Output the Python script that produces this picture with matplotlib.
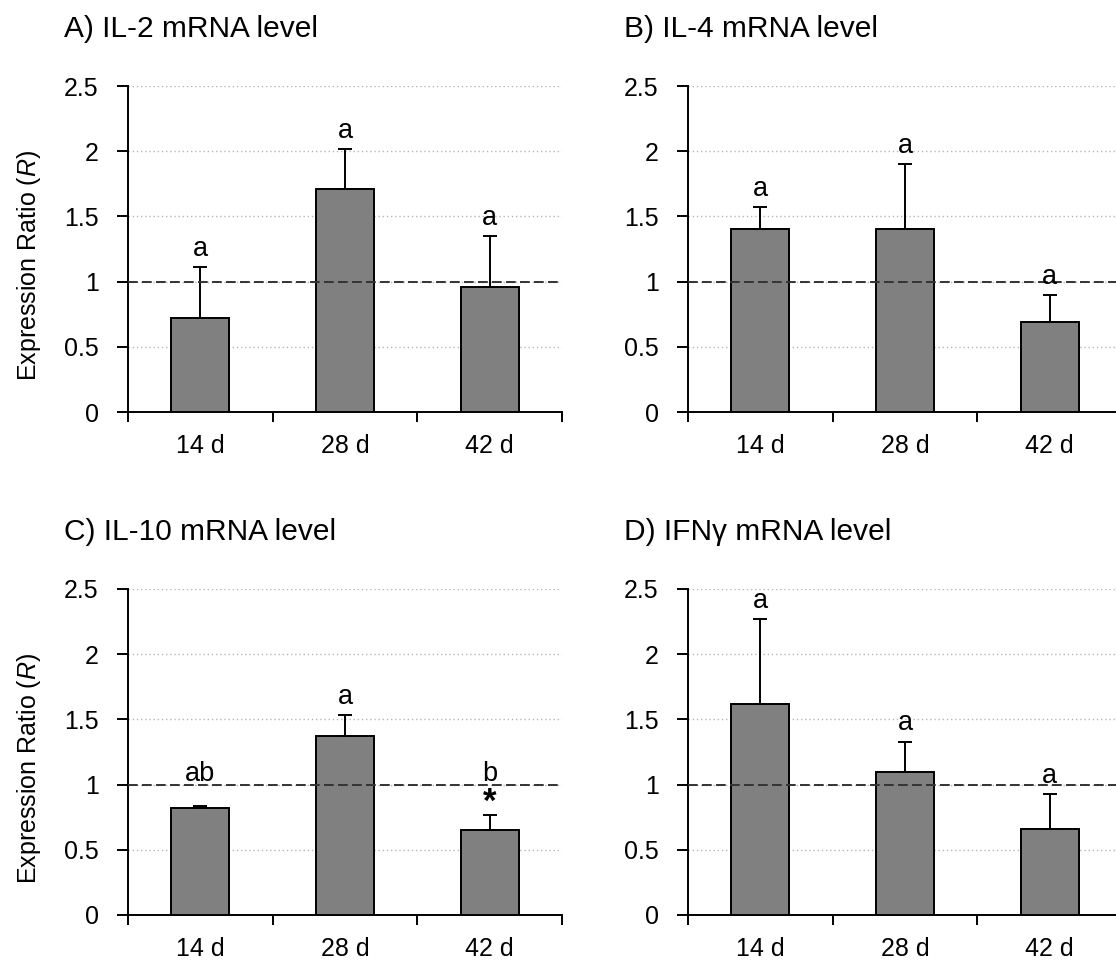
import numpy as np
import matplotlib
matplotlib.use("Agg")
import matplotlib.pyplot as plt

plt.rcParams['font.family'] = ['Liberation Sans', 'DejaVu Sans']
plt.rcParams['mathtext.fontset'] = 'custom'
plt.rcParams['mathtext.rm'] = 'Liberation Sans'
plt.rcParams['mathtext.it'] = 'Liberation Sans:italic'

# ---- data ----
days = ["14 d", "28 d", "42 d"]
y_ticks = [0, 0.5, 1, 1.5, 2, 2.5]
y_ticklabels = ["0", "0.5", "1", "1.5", "2", "2.5"]

titles = ["A) IL-2 mRNA level", "B) IL-4 mRNA level",
          "C) IL-10 mRNA level", "D) IFN\u03b3 mRNA level"]

il2_mean = [0.72, 1.71, 0.96]
il2_err = [0.39, 0.31, 0.39]
il4_mean = [1.40, 1.40, 0.69]
il4_err = [0.17, 0.50, 0.21]
il10_mean = [0.82, 1.37, 0.65]
il10_err = [0.015, 0.165, 0.12]
ifng_mean = [1.62, 1.10, 0.66]
ifng_err = [0.65, 0.23, 0.27]

il2_letters = ["a", "a", "a"]
il4_letters = ["a", "a", "a"]
il10_letters = ["ab", "a", "b"]
ifng_letters = ["a", "a", "a"]
il10_star = [False, False, True]

means = [il2_mean, il4_mean, il10_mean, ifng_mean]
errs = [il2_err, il4_err, il10_err, ifng_err]
letters = [il2_letters, il4_letters, il10_letters, ifng_letters]
stars = [None, None, il10_star, None]

W, H = 1116, 966
fig = plt.figure(figsize=(W / 100, H / 100), dpi=100)

# axes boxes in pixels: (left, top) of plot area, same size for all
ax_w, ax_h = 434, 326
origins = [(128, 86), (688, 86), (128, 589), (688, 589)]

x = np.arange(len(days))

for i, (ox, oy) in enumerate(origins):
    ax = fig.add_axes([ox / W, 1 - (oy + ax_h) / H, ax_w / W, ax_h / H])
    m = np.array(means[i])
    e = np.array(errs[i])

    ax.bar(x, m, width=0.4, color='#808080', edgecolor='black', linewidth=1.4, zorder=3)
    ax.errorbar(x, m, yerr=[np.zeros_like(e), e], fmt='none', ecolor='black',
                elinewidth=1.4, capsize=5, capthick=1.4, zorder=4)
    ax.axhline(1, color='#333333', linewidth=1.4, linestyle=(0, (5, 2.2)), zorder=5)

    ax.set_xlim(-0.5, 2.5)
    ax.set_ylim(0, 2.5)
    ax.set_yticks(y_ticks)
    ax.set_yticklabels(y_ticklabels)
    ax.set_xticks([-0.5, 0.5, 1.5, 2.5])
    ax.set_xticklabels([])
    ax.set_xticks(x, minor=True)
    ax.set_xticklabels(days, minor=True)
    ax.tick_params(axis='x', which='major', direction='out', length=7.5, width=1.4)
    ax.tick_params(axis='x', which='minor', length=0, pad=16, labelsize=18)
    ax.tick_params(axis='y', direction='out', length=8, width=1.4, pad=13, labelsize=18)

    ax.yaxis.grid(True, linestyle=(0, (1, 2)), color='#b5b5b5', linewidth=1)
    ax.set_axisbelow(True)
    for s in ['top', 'right']:
        ax.spines[s].set_visible(False)
    for s in ['left', 'bottom']:
        ax.spines[s].set_linewidth(1.4)

    # significance letters above the error bars
    tops = m + e
    base = tops + 0.085
    if stars[i] is not None:
        for j, flag in enumerate(stars[i]):
            if flag:
                ax.text(x[j], tops[j] + 0.09, "*", ha='center', va='center',
                        fontsize=25, fontweight='bold', zorder=6)
                base[j] = tops[j] + 0.255
        # letters on this panel sit on the same row as the starred one
        base[0] = base[2]
    for j, lab in enumerate(letters[i]):
        ax.text(x[j], base[j], lab, ha='center', va='baseline', fontsize=19.5, zorder=6)

    if i % 2 == 0:
        ax.set_ylabel("Expression Ratio ($\\mathit{R}$)", fontsize=18)
        ax.yaxis.set_label_coords(-0.195, 0.45)

    fig.text((ox - 64) / W, 1 - (oy - 49) / H, titles[i], fontsize=21.5,
             ha='left', va='baseline')

fig.savefig("out.png", dpi=100)
